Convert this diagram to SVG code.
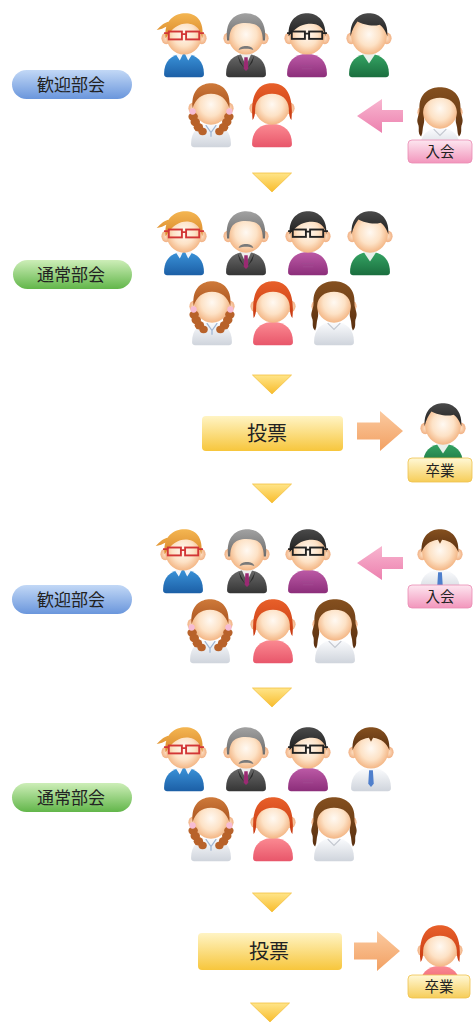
<svg xmlns="http://www.w3.org/2000/svg" width="473" height="1023" viewBox="0 0 473 1023">
  <defs>
    <style>
      .jp{font-family:"Noto Sans CJK JP","Noto Sans CJK SC",sans-serif;fill:#222;text-anchor:middle}
      .tag{font-size:14.5px}
      .pill{font-size:17px}
      .vote{font-size:20px}
    </style>
    <!-- skin and clothing fills -->
    <radialGradient id="skin" cx="50%" cy="48%" r="55%">
      <stop offset="0" stop-color="#fff9f2"/>
      <stop offset="0.55" stop-color="#fde2c6"/>
      <stop offset="1" stop-color="#f2b07c"/>
    </radialGradient>
    <radialGradient id="ear" cx="50%" cy="50%" r="60%">
      <stop offset="0" stop-color="#fde0c4"/>
      <stop offset="1" stop-color="#efa878"/>
    </radialGradient>
    <linearGradient id="hBlond" x1="0" y1="0" x2="0" y2="1"><stop offset="0" stop-color="#f4b652"/><stop offset="1" stop-color="#d9882a"/></linearGradient>
    <linearGradient id="hGray" x1="0" y1="0" x2="0" y2="1"><stop offset="0" stop-color="#a2a2a2"/><stop offset="1" stop-color="#6c6c6c"/></linearGradient>
    <linearGradient id="hBlack" x1="0" y1="0" x2="0" y2="1"><stop offset="0" stop-color="#4a4a4a"/><stop offset="1" stop-color="#1e1e1e"/></linearGradient>
    <linearGradient id="hAuburn" x1="0" y1="0" x2="0" y2="1"><stop offset="0" stop-color="#cf7a3a"/><stop offset="1" stop-color="#a85420"/></linearGradient>
    <linearGradient id="hRed" x1="0" y1="0" x2="0" y2="1"><stop offset="0" stop-color="#e8602a"/><stop offset="1" stop-color="#c83a12"/></linearGradient>
    <linearGradient id="hBrown" x1="0" y1="0" x2="0" y2="1"><stop offset="0" stop-color="#85501f"/><stop offset="1" stop-color="#5a3010"/></linearGradient>
    <linearGradient id="cBlue" x1="0" y1="0" x2="0" y2="1"><stop offset="0" stop-color="#3a92d8"/><stop offset="1" stop-color="#1c5fa6"/></linearGradient>
    <linearGradient id="cSuit" x1="0" y1="0" x2="0" y2="1"><stop offset="0" stop-color="#6a6a6a"/><stop offset="1" stop-color="#353535"/></linearGradient>
    <linearGradient id="cPurple" x1="0" y1="0" x2="0" y2="1"><stop offset="0" stop-color="#bc5aa6"/><stop offset="1" stop-color="#8c2e7a"/></linearGradient>
    <linearGradient id="cGreen" x1="0" y1="0" x2="0" y2="1"><stop offset="0" stop-color="#35a464"/><stop offset="1" stop-color="#1a6e3e"/></linearGradient>
    <linearGradient id="cPink" x1="0" y1="0" x2="0" y2="1"><stop offset="0" stop-color="#fb8a92"/><stop offset="1" stop-color="#e8566a"/></linearGradient>
    <linearGradient id="cWhite" x1="0" y1="0" x2="0" y2="1"><stop offset="0" stop-color="#fbfcfe"/><stop offset="1" stop-color="#cfd4dc"/></linearGradient>
    <!-- panels, badges, arrows -->
    <linearGradient id="gBluePill" x1="0" y1="0" x2="0" y2="1"><stop offset="0" stop-color="#c2d8f6"/><stop offset="1" stop-color="#6a96dc"/></linearGradient>
    <linearGradient id="gGreenPill" x1="0" y1="0" x2="0" y2="1"><stop offset="0" stop-color="#cdeeb8"/><stop offset="1" stop-color="#62b64a"/></linearGradient>
    <linearGradient id="gVote" x1="0" y1="0" x2="0" y2="1"><stop offset="0" stop-color="#fff4c4"/><stop offset="1" stop-color="#f7c63c"/></linearGradient>
    <linearGradient id="gPinkTag" x1="0" y1="0" x2="0" y2="1"><stop offset="0" stop-color="#fde6f0"/><stop offset="1" stop-color="#f296bc"/></linearGradient>
    <linearGradient id="gGoldTag" x1="0" y1="0" x2="0" y2="1"><stop offset="0" stop-color="#fff8d6"/><stop offset="1" stop-color="#f6cd58"/></linearGradient>
    <linearGradient id="gTri" x1="0" y1="0" x2="0" y2="1"><stop offset="0" stop-color="#ffe58a"/><stop offset="1" stop-color="#f8bc2c"/></linearGradient>
    <linearGradient id="gPinkArrow" x1="0" y1="0" x2="0" y2="1"><stop offset="0" stop-color="#f8b6d0"/><stop offset="1" stop-color="#ec80ae"/></linearGradient>
    <linearGradient id="gOrangeArrow" x1="0" y1="0" x2="0" y2="1"><stop offset="0" stop-color="#fbcaa0"/><stop offset="1" stop-color="#f2a062"/></linearGradient>

    <!-- shared avatar parts -->
    <path id="torso" d="M-19,61 C-19,49 -12,42 0,42 C12,42 19,49 19,61 Q19,64 16,64 L-16,64 Q-19,64 -19,61 Z"/>
    <g id="head">
      <ellipse cx="-17" cy="27" rx="4.5" ry="5.5" fill="url(#ear)"/>
      <ellipse cx="17" cy="27" rx="4.5" ry="5.5" fill="url(#ear)"/>
      <ellipse cx="0" cy="24" rx="17" ry="18.5" fill="url(#skin)"/>
    </g>

    <!-- woman, blonde, red glasses, blue sweater -->
    <g id="pA" transform="translate(0,-2) scale(1.05)">
      <use href="#torso" fill="url(#cBlue)"/>
      <path d="M-8,42 L-1,42 L-4,48 Z M8,42 L1,42 L4,48 Z" fill="#f4f6fa"/>
      <use href="#head"/>
      <path d="M-17.5,27 C-19.5,9 -8,3 1,3 C12,3 19.5,10 17.5,27 C16,19 12,14 5,13 C-3,12 -11,16 -17.5,27 Z M-15,15 C-19,17 -23,19 -26,19 C-22,15 -19,12 -14,11 Z" fill="url(#hBlond)"/>
      <g fill="none" stroke="#d23636" stroke-width="1.8">
        <rect x="-14.5" y="20.5" width="12.5" height="7.5"/>
        <rect x="2" y="20.5" width="12.5" height="7.5"/>
        <path d="M-2,23 L2,23 M-14.5,22 L-19,22 M14.5,22 L19,22"/>
      </g>
    </g>

    <!-- man, gray hair, moustache, suit -->
    <g id="pB" transform="translate(0,-2) scale(1.05)">
      <use href="#torso" fill="url(#cSuit)"/>
      <path d="M-5,42 L0,53 L5,42 Z" fill="#eeeeee"/>
      <path d="M-1.6,45 L1.6,45 L2.2,56 L0,58 L-2.2,56 Z" fill="#9a2a72"/>
      <path d="M-8,43 L-2,55 L-6,50 Z M8,43 L2,55 L6,50 Z" fill="#2a2a2a"/>
      <use href="#head"/>
      <path d="M-18,29 C-20.5,8 -8,3 0,3 C8,3 20.5,8 18,29 L16,29 C16,20 13,15 8,13.5 C2,12 -4,12 -8,13.5 C-13,15 -16,20 -16,29 Z" fill="url(#hGray)"/>
      <path d="M-7,38 C-6,33 6,33 7,38 C3,36.5 -3,36.5 -7,38 Z" fill="#7a7a7a"/>
    </g>

    <!-- man, black hair, black glasses, purple shirt -->
    <g id="pC" transform="translate(0,-2) scale(1.05)">
      <use href="#torso" fill="url(#cPurple)"/>
      <path d="M-6,53 L6,53 M-5,56 L5,56" stroke="#a04890" stroke-width="1"/>
      <use href="#head"/>
      <path d="M-17.5,25 C-18.5,8 -8,3 0,3 C8,3 18.5,8 17.5,25 C16,17 11,13 4,13 C-3,13 -10,15 -17.5,25 Z" fill="url(#hBlack)"/>
      <g fill="none" stroke="#222" stroke-width="1.8">
        <rect x="-14.5" y="20.5" width="12.5" height="7"/>
        <rect x="2" y="20.5" width="12.5" height="7"/>
        <path d="M-2,22.5 L2,22.5 M-14.5,22 L-19,22 M14.5,22 L19,22"/>
      </g>
    </g>

    <!-- man, black hair, green sweater -->
    <g id="pD" transform="translate(0,-2) scale(1.05)">
      <use href="#torso" fill="url(#cGreen)"/>
      <path d="M-6,42 L0,51 L6,42 Z" fill="#e9f0ea"/>
      <use href="#head"/>
      <path d="M-17.5,25 C-18.5,8 -8,3 0,3 C8,3 18.5,8 17.5,25 C15,18 12,15 10,14 C4,16 -6,14 -11,11 C-14,15 -16,19 -17.5,25 Z" fill="url(#hBlack)"/>
    </g>

    <!-- woman, auburn braids, light blouse -->
    <g id="pE" transform="translate(0,-2) scale(1.05)">
      <use href="#torso" fill="url(#cWhite)"/>
      <path d="M-5,43 L0,50 L5,43 M0,50 L0,54" fill="none" stroke="#9fb6d4" stroke-width="1.2"/>
      <use href="#head"/>
      <path d="M-17.5,27 C-19.5,8 -8,3 0,3 C8,3 19.5,8 17.5,27 C15,18 9,13 0,13 C-9,13 -15,18 -17.5,27 Z" fill="url(#hAuburn)"/>
      <g fill="#b8622a">
        <ellipse cx="-17" cy="35" rx="4.5" ry="4"/>
        <ellipse cx="-15" cy="40" rx="4.5" ry="4"/>
        <ellipse cx="-12" cy="45" rx="4.5" ry="4"/>
        <ellipse cx="-8" cy="49" rx="4" ry="3.5"/>
        <ellipse cx="17" cy="35" rx="4.5" ry="4"/>
        <ellipse cx="15" cy="40" rx="4.5" ry="4"/>
        <ellipse cx="12" cy="45" rx="4.5" ry="4"/>
        <ellipse cx="8" cy="49" rx="4" ry="3.5"/>
      </g>
      <circle cx="-17.5" cy="30" r="3" fill="#f6bcd4"/>
      <circle cx="17.5" cy="30" r="3" fill="#f6bcd4"/>
    </g>

    <!-- woman, red hair, pink top -->
    <g id="pF" transform="translate(0,-2) scale(1.05)">
      <use href="#torso" fill="url(#cPink)"/>
      <use href="#head"/>
      <path d="M-18.5,38 C-21.5,8 -9,3 0,3 C9,3 21.5,8 18.5,38 C17,37 16,33 16,27 C15.5,18 9,13 0,13 C-9,13 -15.5,18 -16,27 C-16,33 -17,37 -18.5,38 Z" fill="url(#hRed)"/>
    </g>

    <!-- woman, long dark-brown wavy hair, white blouse -->
    <g id="pG" transform="translate(0,-2) scale(1.05)">
      <use href="#torso" fill="url(#cWhite)"/>
      <path d="M-6,43 L0,49 L6,43" fill="none" stroke="#c4c8d0" stroke-width="1.2"/>
      <use href="#head"/>
      <path d="M-18,50 C-22,46 -19,42 -21,38 C-23,33 -19.5,30 -19.5,24 C-20.5,8 -9,3 0,3 C9,3 20.5,8 19.5,24 C19.5,30 23,33 21,38 C19,42 22,46 18,50 C16,46 17,42 15.5,38 C14,33 16.5,30 16,26 C15.5,18 9,13 0,13 C-9,13 -15.5,18 -16,26 C-16.5,30 -14,33 -15.5,38 C-17,42 -16,46 -18,50 Z" fill="url(#hBrown)"/>
    </g>

    <!-- man, brown parted hair, white shirt, blue tie -->
    <g id="pH" transform="translate(0,-2) scale(1.05)">
      <use href="#torso" fill="url(#cWhite)"/>
      <path d="M-1.8,44 L1.8,44 L2.6,57 L0,60 L-2.6,57 Z" fill="#4f7fcc"/>
      <use href="#head"/>
      <path d="M-17.5,25 C-18.5,8 -8,3 0,3 C8,3 18.5,8 17.5,25 C15,18 10,14 2,13 L0,17 L-2,13 C-10,14 -15,18 -17.5,25 Z" fill="url(#hBrown)"/>
    </g>

    <path id="tri" d="M-19.5,0 L19.5,0 L0,19 Z" fill="url(#gTri)" stroke="#f4c040" stroke-width="0.8" stroke-linejoin="round"/>
    <path id="arrowL" d="M0,0 L25,-17 L25,-6 L46,-6 L46,6 L25,6 L25,17 Z" fill="url(#gPinkArrow)"/>
    <path id="arrowR" d="M46,0 L23,-20 L23,-8.5 L0,-8.5 L0,8.5 L23,8.5 L23,20 Z" fill="url(#gOrangeArrow)"/>
  </defs>

  <rect width="473" height="1023" fill="#ffffff"/>

  <!-- stage 1: welcome meeting -->
  <g id="stage-welcome-1">
    <rect x="12" y="70" width="120" height="29" rx="14.5" fill="url(#gBluePill)"/>
    <text class="jp pill" x="71" y="91">歓迎部会</text>
    <use href="#pA" x="184" y="12"/>
    <use href="#pB" x="246" y="12"/>
    <use href="#pC" x="307" y="12"/>
    <use href="#pD" x="369" y="12"/>
    <use href="#pE" x="211" y="82"/>
    <use href="#pF" x="272" y="82"/>
  </g>
  <g id="newcomer-1">
    <use href="#pG" x="440" y="86"/>
    <rect x="408" y="140" width="64" height="23" rx="4" fill="url(#gPinkTag)" stroke="#ea8ab2" stroke-width="0.8"/>
    <text class="jp tag" x="440" y="157">入会</text>
  </g>

  <!-- stage 2: regular meeting -->
  <g id="stage-regular-1">
    <rect x="13" y="260" width="119" height="29" rx="14.5" fill="url(#gGreenPill)"/>
    <text class="jp pill" x="71" y="281">通常部会</text>
    <use href="#pA" x="184" y="210"/>
    <use href="#pB" x="246" y="210"/>
    <use href="#pC" x="308" y="210"/>
    <use href="#pD" x="370" y="210"/>
    <use href="#pE" x="212" y="280"/>
    <use href="#pF" x="273" y="280"/>
    <use href="#pG" x="334" y="280"/>
  </g>

  <!-- stage 3: vote -->
  <g id="vote-1">
    <rect x="202" y="416" width="141" height="35" rx="4" fill="url(#gVote)"/>
    <text class="jp vote" x="267" y="441">投票</text>
  </g>
  <g id="graduate-1">
    <use href="#pD" x="443" y="402"/>
    <rect x="408" y="458" width="64" height="24" rx="4" fill="url(#gGoldTag)" stroke="#efc24e" stroke-width="0.8"/>
    <text class="jp tag" x="440" y="476">卒業</text>
  </g>

  <!-- stage 4: welcome meeting -->
  <g id="stage-welcome-2">
    <rect x="12" y="585" width="120" height="29" rx="14.5" fill="url(#gBluePill)"/>
    <text class="jp pill" x="71" y="606">歓迎部会</text>
    <use href="#pA" x="183" y="528"/>
    <use href="#pB" x="247" y="528"/>
    <use href="#pC" x="308" y="528"/>
    <use href="#pE" x="210" y="598"/>
    <use href="#pF" x="273" y="598"/>
    <use href="#pG" x="335" y="598"/>
  </g>
  <g id="newcomer-2">
    <use href="#pH" x="440" y="528"/>
    <rect x="408" y="585" width="64" height="23" rx="4" fill="url(#gPinkTag)" stroke="#ea8ab2" stroke-width="0.8"/>
    <text class="jp tag" x="440" y="602">入会</text>
  </g>

  <!-- stage 5: regular meeting -->
  <g id="stage-regular-2">
    <rect x="12" y="783" width="120" height="29" rx="14.5" fill="url(#gGreenPill)"/>
    <text class="jp pill" x="71" y="804">通常部会</text>
    <use href="#pA" x="184" y="726"/>
    <use href="#pB" x="246" y="726"/>
    <use href="#pC" x="308" y="726"/>
    <use href="#pH" x="371" y="726"/>
    <use href="#pE" x="211" y="796"/>
    <use href="#pF" x="273" y="796"/>
    <use href="#pG" x="334" y="796"/>
  </g>

  <!-- stage 6: vote -->
  <g id="vote-2">
    <rect x="198" y="933" width="144" height="37" rx="4" fill="url(#gVote)"/>
    <text class="jp vote" x="269" y="959">投票</text>
  </g>
  <g id="graduate-2">
    <use href="#pF" x="440" y="924"/>
    <rect x="408" y="975" width="62" height="23" rx="4" fill="url(#gGoldTag)" stroke="#efc24e" stroke-width="0.8"/>
    <text class="jp tag" x="439" y="992">卒業</text>
  </g>

  <!-- flow markers and arrows -->
  <g id="connectors">
    <use href="#tri" x="272" y="173"/>
    <use href="#tri" x="272" y="375"/>
    <use href="#tri" x="272" y="484"/>
    <use href="#tri" x="272" y="688"/>
    <use href="#tri" x="272" y="893"/>
    <use href="#tri" x="270" y="1003"/>
    <use href="#arrowL" x="357" y="116"/>
    <use href="#arrowL" x="357" y="563"/>
    <use href="#arrowR" x="357" y="431"/>
    <use href="#arrowR" x="354" y="951"/>
  </g>
</svg>
